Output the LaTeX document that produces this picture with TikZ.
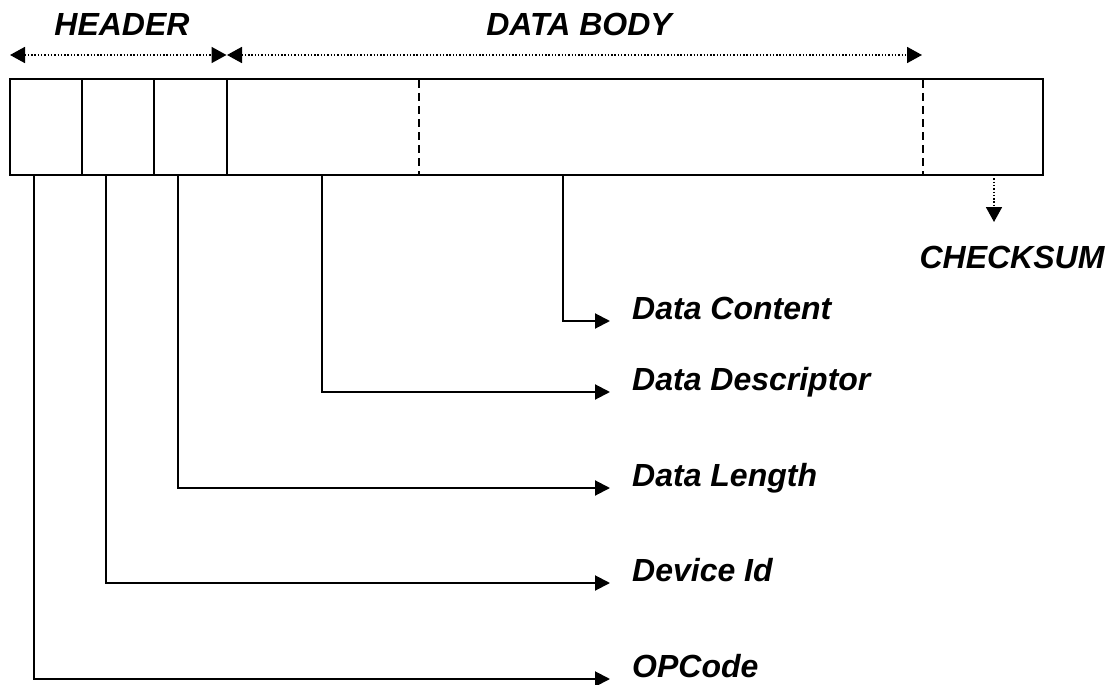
\documentclass[tikz,border=0pt]{standalone}
\usepackage{fontspec}
\setmainfont{Liberation Sans}
\usetikzlibrary{arrows.meta}
\tikzset{
  lbl/.style={font=\fontsize{32}{36}\selectfont\bfseries\itshape, inner sep=0pt},
  conn/.style={line width=2pt, -{Triangle[length=15pt,width=15pt]}},
  dotarrow/.style={line width=1.8pt, dash pattern=on 1.4pt off 1.9pt, {Triangle[length=15pt,width=16pt]}-{Triangle[length=15pt,width=16pt]}},
  dotdown/.style={line width=1.8pt, dash pattern=on 1.4pt off 1.9pt, -{Triangle[length=15pt,width=16pt]}},
  framebox/.style={line width=2.2pt},
  divsolid/.style={line width=2.2pt},
  divdash/.style={line width=2.2pt, dash pattern=on 8pt off 5pt}
}
\begin{document}
\begin{tikzpicture}[x=1pt,y=-1pt]
\useasboundingbox (0,0) rectangle (1112,685);

% top span arrows
\node[lbl] (header) at (122,24) {HEADER};
\node[lbl] (databody) at (579,24) {DATA BODY};
\coordinate (hL) at (10,55);
\coordinate (hR) at (226.5,55);
\coordinate (dL) at (227,55);
\coordinate (dR) at (922,55);
\draw[dotarrow] (hL) -- (hR);
\draw[dotarrow] (dL) -- (dR);

% frame
\draw[framebox] (10,79) rectangle (1043,175);
\draw[divsolid] (82,79) -- (82,175);
\draw[divsolid] (154,79) -- (154,175);
\draw[divsolid] (226.7,79) -- (226.7,175);
\draw[divdash] (418.7,80) -- (418.7,175);
\draw[divdash] (922.7,80) -- (922.7,175);

% connector start points on bottom edge
\coordinate (sOP) at (34,175);
\coordinate (sDI) at (106,175);
\coordinate (sDL) at (178,175);
\coordinate (sDD) at (322,175);
\coordinate (sDC) at (563,175);
\coordinate (sCS) at (994,175);

% labels
\node[lbl, anchor=base west] (lDC) at (632,319) {Data Content};
\node[lbl, anchor=base west] (lDD) at (632,390) {Data Descriptor};
\node[lbl, anchor=base west] (lDL) at (632,486) {Data Length};
\node[lbl, anchor=base west] (lDI) at (632,581) {Device Id};
\node[lbl, anchor=base west] (lOP) at (632,677) {OPCode};
\node[lbl] (lCS) at (1012,257) {CHECKSUM};

% connectors
\draw[conn] (sDC) |- ([xshift=-22pt,yshift=-2pt]lDC.base west);
\draw[conn] (sDD) |- ([xshift=-22pt,yshift=-2pt]lDD.base west);
\draw[conn] (sDL) |- ([xshift=-22pt,yshift=-2pt]lDL.base west);
\draw[conn] (sDI) |- ([xshift=-22pt,yshift=-2pt]lDI.base west);
\draw[conn] (sOP) |- ([xshift=-22pt,yshift=-2pt]lOP.base west);
\coordinate (cCS) at (994,222);
\draw[dotdown] (sCS) -- (cCS);
\end{tikzpicture}
\end{document}
